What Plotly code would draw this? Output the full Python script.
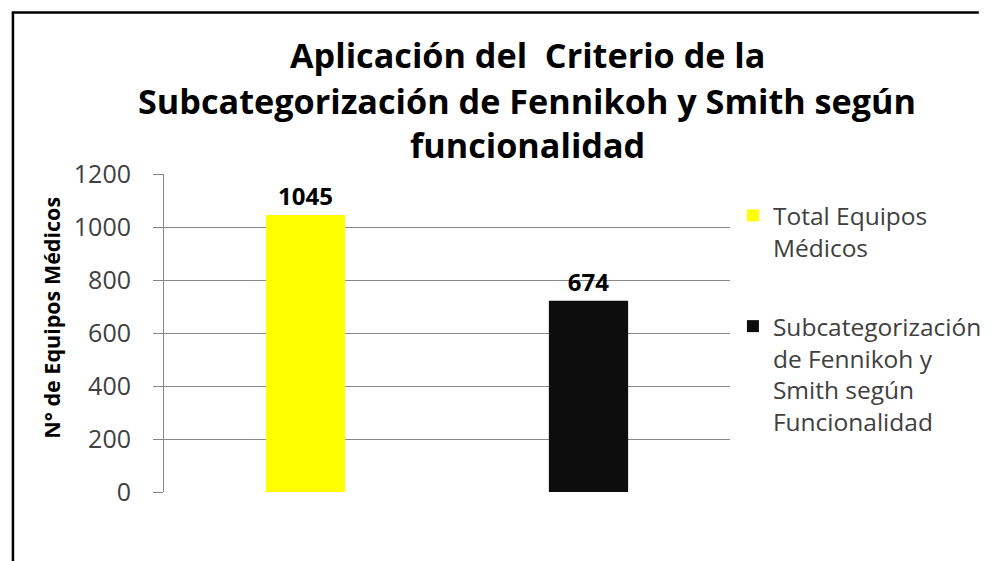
import plotly.graph_objects as go

# ---- data ----
categories = ["Total Equipos<br>Médicos",
              "Subcategorización<br>de Fennikoh y<br>Smith según<br>Funcionalidad"]
bar_values = [1045, 722]          # heights as drawn in the picture
bar_labels = ["1045", "674"]      # data labels as printed
bar_colors = ["#FFFF00", "#0D0D0D"]
y_ticks = [0, 200, 400, 600, 800, 1000, 1200]
y_title = "N° de Equipos Médicos"
title_lines = ["Aplicación del  Criterio de la",
               "Subcategorización de Fennikoh y Smith según",
               "funcionalidad"]

# page is rendered with an 8px body margin; work in page pixels and shift
OFF = 8
W, H = 991, 561
PL, PR, PT, PB = 164, 744, 174, 492      # plot area in page pixels
L, T = PL - OFF, PT - OFF
pw, ph = PR - PL, PB - PT
R, B = W - L - pw, H - T - ph

def px_x(x):
    return (x - PL) / pw

def px_y(y):
    return (PB - y) / ph

FONT = "Open Sans"

fig = go.Figure()
for i, (cat, val, lab, col) in enumerate(zip(categories, bar_values, bar_labels, bar_colors)):
    fig.add_trace(go.Bar(
        x=[i], y=[val], name=cat, width=0.28, legendgroup=f"g{i}",
        marker=dict(color=col, line=dict(width=0)),
        text=[lab], textposition="outside", cliponaxis=False,
        textfont=dict(family=FONT, size=24, color="#000000", weight="bold"),
    ))

annotations = []
for k, line in enumerate(title_lines):
    annotations.append(dict(
        text=line, xref="paper", yref="paper",
        x=px_x(536), y=px_y(55 + 45 * k), xanchor="center", yanchor="middle",
        showarrow=False,
        font=dict(family=FONT, size=34.2, color="#000000", weight="bold"),
    ))
annotations.append(dict(
    text=y_title, xref="paper", yref="paper", textangle=-90,
    x=px_x(48), y=px_y(318), xanchor="center", yanchor="middle", showarrow=False,
    font=dict(family=FONT, size=21.5, color="#000000", weight="bold"),
))

fig.update_layout(
    width=W, height=H,
    margin=dict(l=L, r=R, t=T, b=B),
    paper_bgcolor="white", plot_bgcolor="white",
    barmode="overlay",
    showlegend=True,
    annotations=annotations,
    legend=dict(
        x=px_x(747), y=px_y(193), xanchor="left", yanchor="top",
        font=dict(family=FONT, size=24.5, color="#404040"),
        tracegroupgap=44, itemwidth=30, valign="top", bgcolor="rgba(0,0,0,0)",
    ),
    xaxis=dict(range=[-0.5, 1.5], showticklabels=False, showgrid=False,
               zeroline=False, showline=False, ticks=""),
    yaxis=dict(
        range=[0, 1200], tickvals=y_ticks, showgrid=True, gridcolor="#888888",
        gridwidth=1, zeroline=False, showline=True, linecolor="#888888", linewidth=1,
        ticks="outside", ticklen=10, tickcolor="#888888", ticklabelstandoff=17,
        tickfont=dict(family=FONT, size=25, color="#404040"),
    ),
    shapes=[
        dict(type="line", xref="paper", yref="paper",
             x0=px_x(OFF), x1=px_x(OFF + W), y0=px_y(12.5), y1=px_y(12.5),
             line=dict(color="#000000", width=2.5)),
        dict(type="line", xref="paper", yref="paper",
             x0=px_x(9.2), x1=px_x(9.2), y0=px_y(12.5), y1=px_y(OFF + H),
             line=dict(color="#000000", width=2.5)),
    ],
)

fig.write_html("out.html")
